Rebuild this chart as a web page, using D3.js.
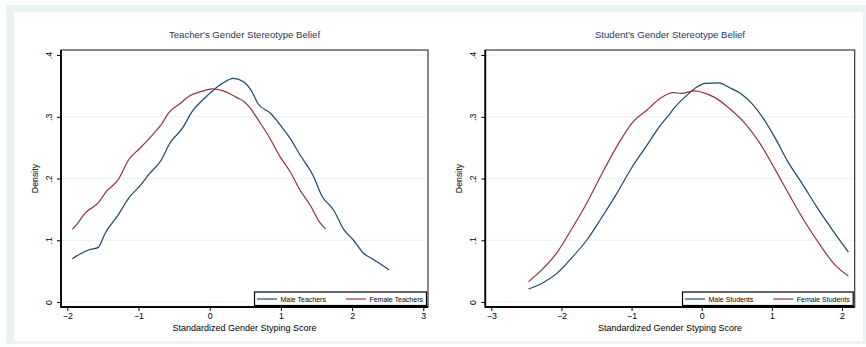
<!DOCTYPE html>
<html>
<head>
<meta charset="utf-8">
<script src="https://cdn.jsdelivr.net/npm/d3@7"></script>
<style>
  body { margin: 0; background: #fff; }
  svg { display: block; font-family: "Liberation Sans", Arial, sans-serif; }
</style>
</head>
<body>
<div id="chart"></div>
<script>
// kernel density curves, [score, density]
var maleTeachers = [[-1.93,.070],[-1.80,.079],[-1.68,.085],[-1.57,.088],[-1.47,.111],[-1.28,.142],
  [-1.12,.171],[-0.98,.188],[-0.86,.206],[-0.68,.230],[-0.56,.257],[-0.38,.282],[-0.25,.308],
  [-0.09,.328],[0.05,.343],[0.19,.355],[0.33,.362],[0.47,.357],[0.59,.341],[0.68,.321],[0.85,.306],
  [0.99,.287],[1.13,.265],[1.27,.238],[1.46,.203],[1.57,.173],[1.74,.149],[1.88,.118],[2.02,.100],
  [2.16,.079],[2.30,.069],[2.42,.060],[2.52,.052]];
var femaleTeachers = [[-1.93,.118],[-1.87,.125],[-1.75,.144],[-1.57,.160],[-1.45,.179],[-1.28,.199],
  [-1.14,.230],[-0.98,.249],[-0.81,.270],[-0.67,.289],[-0.58,.306],[-0.42,.321],[-0.28,.334],
  [-0.11,.341],[0.03,.345],[0.21,.341],[0.38,.331],[0.49,.324],[0.57,.314],[0.68,.295],[0.82,.270],
  [0.99,.235],[1.13,.211],[1.27,.181],[1.41,.157],[1.55,.128],[1.63,.118]];
var maleStudents = [[-2.47,.021],[-2.28,.030],[-2.07,.046],[-1.85,.072],[-1.64,.100],[-1.43,.136],
  [-1.21,.176],[-1.00,.217],[-0.78,.254],[-0.59,.286],[-0.46,.304],[-0.40,.313],[-0.21,.335],
  [-0.07,.348],[0.05,.354],[0.24,.355],[0.40,.347],[0.55,.338],[0.71,.322],[0.88,.297],[1.05,.265],
  [1.23,.227],[1.43,.192],[1.64,.154],[1.88,.114],[2.09,.081]];
var femaleStudents = [[-2.47,.033],[-2.28,.052],[-2.07,.079],[-1.85,.119],[-1.64,.160],[-1.43,.206],
  [-1.21,.252],[-1.00,.289],[-0.78,.311],[-0.59,.330],[-0.40,.339],[-0.29,.338],[-0.10,.342],
  [0.02,.339],[0.19,.331],[0.40,.313],[0.62,.289],[0.83,.257],[1.05,.214],[1.26,.171],[1.47,.130],
  [1.69,.092],[1.90,.060],[2.09,.042]];

var yTicks = [0, .1, .2, .3, .4];
var yTickLabels = ["0", ".1", ".2", ".3", ".4"];
var teacherXTicks = [-2, -1, 0, 1, 2, 3];
var studentXTicks = [-3, -2, -1, 0, 1, 2];

var panels = [
  { title: "Teacher's Gender Stereotype Belief", male: maleTeachers, female: femaleTeachers,
    maleLabel: "Male Teachers", femaleLabel: "Female Teachers", xTicks: teacherXTicks,
    left: 61, right: 428, x0: 67.3, x1: 423.3 },
  { title: "Student's Gender Stereotype Belief", male: maleStudents, female: femaleStudents,
    maleLabel: "Male Students", femaleLabel: "Female Students", xTicks: studentXTicks,
    left: 485.3, right: 854.7, x0: 491.3, x1: 842 }
];

var W = 866, H = 347;
var plotTop = 50, plotBottom = 307;
var blue = "#1a476f", red = "#90353b", grid = "#eaf2f3";

var svg = d3.select("#chart").append("svg")
  .attr("width", W).attr("height", H);

// outer band + white graph area
svg.append("rect").attr("x", 6).attr("y", 5).attr("width", 860).attr("height", 339).attr("fill", grid);
svg.append("rect").attr("x", 14).attr("y", 12).attr("width", 849).attr("height", 329).attr("fill", "#fff");

panels.forEach(function(p) {
  var g = svg.append("g");
  var x = d3.scaleLinear().domain([p.xTicks[0], p.xTicks[p.xTicks.length - 1]]).range([p.x0, p.x1]);
  var y = d3.scaleLinear().domain([0, .4]).range([302, 55]);

  // grid lines
  g.selectAll(".grid").data(yTicks).enter().append("line")
    .attr("x1", p.left).attr("x2", p.right)
    .attr("y1", function(d) { return y(d); }).attr("y2", function(d) { return y(d); })
    .attr("stroke", grid).attr("stroke-width", 1);

  // frame
  g.append("rect").attr("x", p.left).attr("y", plotTop)
    .attr("width", p.right - p.left).attr("height", plotBottom - plotTop)
    .attr("fill", "none").attr("stroke", "#3a3a3a").attr("stroke-width", 1.2);

  // x axis
  var xa = g.append("g").attr("transform", "translate(0," + plotBottom + ")")
    .call(d3.axisBottom(x).tickValues(p.xTicks).tickFormat(d3.format("d")).tickSize(4).tickPadding(2));
  xa.select(".domain").remove();
  xa.selectAll("text").attr("font-size", 8.8).attr("fill", "#000").attr("font-family", null);
  xa.selectAll("line").attr("stroke", "#000");

  // y axis
  var ya = g.append("g").attr("transform", "translate(" + p.left + ",0)")
    .call(d3.axisLeft(y).tickValues(yTicks).tickSize(4)
      .tickFormat(function(d, i) { return yTickLabels[i]; }));
  ya.select(".domain").remove();
  ya.selectAll("line").attr("stroke", "#000");
  ya.selectAll("text")
    .attr("x", null).attr("dy", null)
    .attr("text-anchor", "middle").attr("font-size", 8.8).attr("fill", "#000").attr("font-family", null)
    .attr("transform", "translate(-9.5,0) rotate(-90)");

  // axis lines
  g.append("line").attr("x1", p.left).attr("x2", p.left).attr("y1", plotTop).attr("y2", plotBottom + 0.8)
    .attr("stroke", "#000").attr("stroke-width", 1.8);
  g.append("line").attr("x1", p.left).attr("x2", p.right).attr("y1", plotBottom).attr("y2", plotBottom)
    .attr("stroke", "#000").attr("stroke-width", 1.8);

  // curves
  var line = d3.line().x(function(d) { return x(d[0]); }).y(function(d) { return y(d[1]); })
    .curve(d3.curveMonotoneX);
  g.append("path").datum(p.male).attr("d", line)
    .attr("fill", "none").attr("stroke", blue).attr("stroke-width", 1.2);
  g.append("path").datum(p.female).attr("d", line)
    .attr("fill", "none").attr("stroke", red).attr("stroke-width", 1.2);

  // titles
  var cx = (p.left + p.right) / 2;
  g.append("text").attr("x", cx).attr("y", 38).attr("text-anchor", "middle")
    .attr("font-size", 9.6).attr("fill", "#2a3656").text(p.title);
  g.append("text").attr("x", cx).attr("y", 330.5).attr("text-anchor", "middle")
    .attr("font-size", 9).attr("fill", "#000").text("Standardized Gender Styping Score");
  g.append("text").attr("transform", "translate(" + (p.left - 23.5) + "," + ((plotTop + plotBottom) / 2) + ") rotate(-90)")
    .attr("text-anchor", "middle").attr("font-size", 8.8).attr("fill", "#000").text("Density");

  // legend
  var lg = g.append("g");
  var box = lg.append("rect").attr("fill", "#fff").attr("stroke", "#000").attr("stroke-width", 1.2);
  var bx = p.right - 1.5, by = plotBottom - 15;
  var t1 = lg.append("text").attr("font-size", 7).attr("fill", "#000").text(p.maleLabel);
  var t2 = lg.append("text").attr("font-size", 7).attr("fill", "#000").text(p.femaleLabel);
  var w1 = t1.node().getComputedTextLength(), w2 = t2.node().getComputedTextLength();
  var bw = 2.5 + 20 + 3.5 + w1 + 20 + 20 + 3.5 + w2 + 3.5;
  var lx = bx - bw;
  box.attr("x", lx).attr("y", by).attr("width", bw).attr("height", 13.5);
  var ly = by + 7;
  lg.append("line").attr("x1", lx + 2.5).attr("x2", lx + 22.5).attr("y1", ly).attr("y2", ly)
    .attr("stroke", blue).attr("stroke-width", 1.2);
  t1.attr("x", lx + 26).attr("y", ly + 2.5);
  var rx = lx + 26 + w1 + 20;
  lg.append("line").attr("x1", rx).attr("x2", rx + 20).attr("y1", ly).attr("y2", ly)
    .attr("stroke", red).attr("stroke-width", 1.2);
  t2.attr("x", rx + 23.5).attr("y", ly + 2.5);
});
</script>
</body>
</html>
